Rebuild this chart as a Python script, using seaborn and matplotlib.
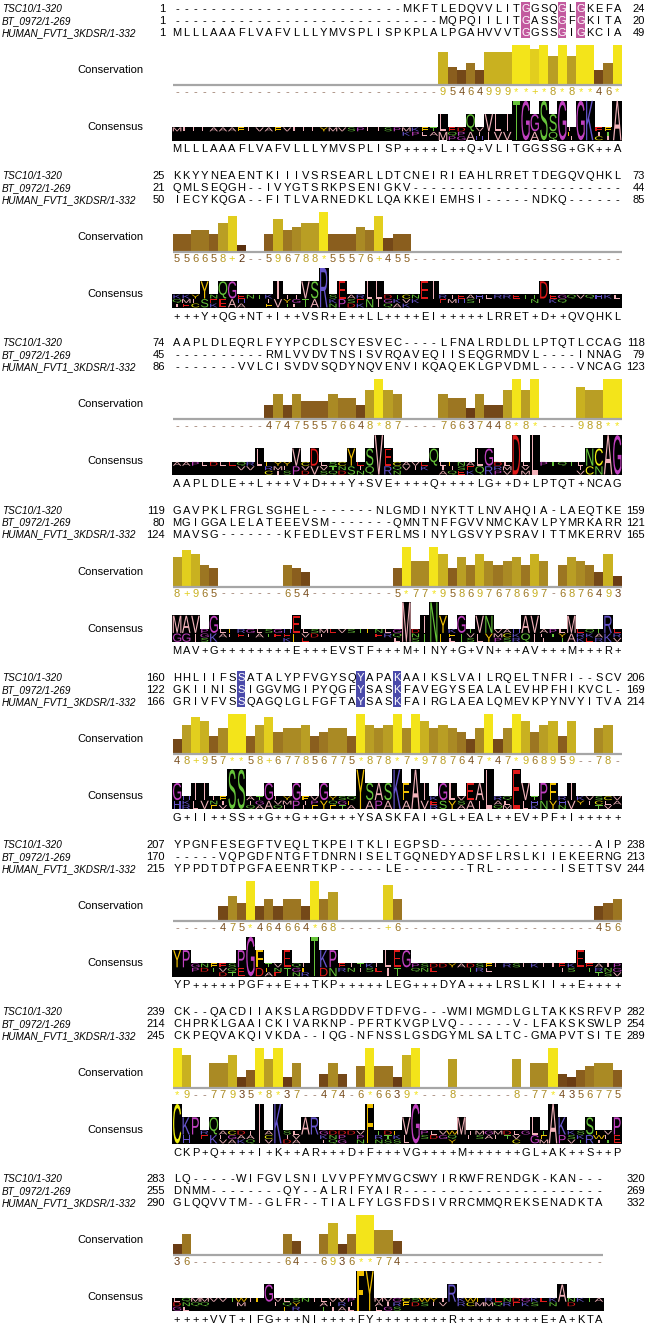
import collections
import numpy as np
import pandas as pd
import seaborn as sns
import matplotlib
matplotlib.use("Agg")
import matplotlib.pyplot as plt
from matplotlib.textpath import TextPath
from matplotlib.patches import PathPatch, Rectangle
from matplotlib.font_manager import FontProperties
from matplotlib.transforms import Affine2D

# ---------------- data ----------------
names = ["TSC10/1-320", "BT_0972/1-269", "HUMAN_FVT1_3KDSR/1-332"]

tsc10_blocks = [
    "-" * 25 + "MKFTLEDQVVLITGGSQGLGKEFA",
    "KKYYNEAENTKIIIVSRSEARLLDTCNEIRIEAHLRRETTDEGQVQHKL",
    "AAPLDLEQRLFYYPCDLSCYESVEC" + "----" + "LFNALRDLDLLPTQTLCCAG",
    "GAVPKLFRGLSGHEL" + "-" * 7 + "NLGMDINYKTTLNVAHQIA" + "-" + "LAEQTKE",
    "HHLIIFSSATALYPFVGYSQYAPAKAAIKSLVAILRQELTNFRI" + "--" + "SCV",
    "YPGNFESEGFTVEQLTKPEITKLIEGPSD" + "-" * 17 + "AIP",
    "CK" + "--" + "QACDIIAKSLARGDDDVFTDFVG" + "---" + "WMIMGMDLGLTAKKSRFVP",
    "LQ" + "-" * 5 + "WIFGVLSNILVVPFYMVGCSWYIRKWFRENDGK" + "-" + "KAN" + "---",
]
bt_blocks = [
    "-" * 29 + "MQPQIILITGASSGFGKITA",
    "QMLSEQGH" + "--" + "IVYGTSRKPSENIGKV" + "-" * 23,
    "-" * 10 + "RMLVVDVTNSISVRQAVEQIISEQGRMDVL" + "----" + "INNAG",
    "MGIGGALELATEEEVSM" + "-" * 7 + "QMNTNFFGVVNMCKAVLPYMRKARR",
    "GKIINISSIGGVMGIPYQGFYSASKFAVEGYSEALALEVHPFHIKVCL" + "-",
    "-" * 5 + "VQPGDFNTGFTDNRNISELTGQNEDYADSFLRSLKIIEKEERNG",
    "CHPRKLGAAICKIVARKNP" + "-" + "PFRTKVGPLVQ" + "-" * 6 + "V" + "-" + "LFAKSKSWLP",
    "DNMM" + "-" * 8 + "QY" + "--" + "ALRIFYAIR" + "-" * 22,
]
human_blocks = [
    "MLLLAAAFLVAFVLLLYMVSPLISPKPLALPGAHVVVTGGSSGIGKCIA",
    "IECYKQGA" + "--" + "FITLVARNEDKLLQAKKEIEMHSI" + "-" * 5 + "NDKQ" + "-" * 6,
    "-" * 7 + "VVLCISVDVSQDYNQVENVIKQAQEKLGPVDML" + "----" + "VNCAG",
    "MAVSG" + "-" * 7 + "KFEDLEVSTFERLMSINYLGSVYPSRAVITTMKERRV",
    "GRIVFVSSQAGQLGLFGFTAYSASKFAIRGLAEALQMEVKPYNVYITVA",
    "YPPDTDTPGFAEENRTKP" + "-" * 5 + "LE" + "-" * 7 + "TRL" + "-" * 7 + "ISETTSV",
    "CKPEQVAKQIVKDA" + "--" + "IQG" + "-" + "NFNSSLGSDGYMLSALTC" + "-" + "GMAPVTSITE",
    "GLQQVVTM--GLFR--TIALFYLGSFDSIVRRCMMQREKSENADKTA",
]
conservation_blocks = [
    "-" * 29 + "95464999**+*8*8**46*",
    "556658+2--596788*55576+455" + "-" * 23,
    "-" * 10 + "474755576648*87" + "----" + "76637448*8*" + "----" + "988**",
    "8+965" + "-" * 7 + "654" + "-" * 9 + "5*77*958697678697" + "-" + "6876493",
    "48+957**58+677856775*878*7*9787647*47*968959--78-",
    "-----475*464664*68" + "-----" + "+6" + "-" * 21 + "456",
    "*9--77935*8*37--474-6*6639*---8------8-77*4356775",
    "36" + "-" * 10 + "64" + "--" + "6936**774" + "-" * 22,
]
consensus_blocks = [
    "MLLLAAAFLVAFVLLLYMVSPLISP++++L++Q+VLITGGSSG+GK++A",
    "+++Y+QG+NT+I++VSR+E++LL++++EI+++++LRRET+D++QVQHKL",
    "AAPLDLE++L+++V+D+++Y+SVE++++Q++++LG++D+LPTQT+NCAG",
    "MAV+G++++++++E+++EVSTF+++M+INY+G+VN+++AV+++M+++R+",
    "G+II++SS++G++G++G+++YSASKFAI+GL+EAL++EV+PF+I+++++",
    "YP+++++PGF++E++TKP+++++LEG+++DYA+++LRSLKII++E++++",
    "CKP+Q++++I+K++AR+++D+F+++VG++++M++++++GL+AK++S++P",
    "++++VVT+IFG+++NI++++FY++++++++R+++++++++E+A+KTA",
]
# highlighted (fully conserved, coloured) columns: block index -> columns (1-based)
highlight_cols = {0: [39, 43, 45], 4: [8, 21, 25]}

seqs = [tsc10_blocks, bt_blocks, human_blocks]
for b in range(8):
    n = len(conservation_blocks[b])
    for s in seqs:
        assert len(s[b]) == n, (b, len(s[b]), n)
    assert len(consensus_blocks[b]) == n, (b, "cons")

# ---------------- style ----------------
sns.set_theme(style="white")
plt.rcParams["font.family"] = ["Liberation Sans", "DejaVu Sans"]

W, H = 647, 1325
X0, CW = 172.5, 9.17          # column grid (px)
B0, PERIOD = 85.0, 167.2      # conservation baseline of first block, block period
UNIT = 3.64                   # px per conservation unit
LOGO_H, LOGO_BOT = 40.0, 55.5
FS = 8.0
FS_NAME = 7.2
HALF_CAP = 4.0

cons_colors = {0: "#4a2608", 1: "#52290b", 2: "#5a300f", 3: "#6a3c14", 4: "#744818",
               5: "#8a5e1e", 6: "#9c7622", 7: "#aa8a24", 8: "#b99e24", 9: "#c9b120",
               10: "#e2ce1e", 11: "#f3e41a"}
dash_color = "#9a7a6a"
hl_colors = {0: "#c25a9e", 4: "#4a4aaa"}

zappo = {}
for ch in "ILVAM":
    zappo[ch] = "#f2b2ba"
for ch in "FWY":
    zappo[ch] = "#f0c000"
for ch in "KRH":
    zappo[ch] = "#6655cc"
for ch in "DE":
    zappo[ch] = "#e01a1a"
for ch in "STNQ":
    zappo[ch] = "#66c43a"
for ch in "PG":
    zappo[ch] = "#c040c0"
zappo["C"] = "#eeee10"


def score(ch):
    if ch == "*":
        return 11
    if ch == "+":
        return 10
    if ch.isdigit():
        return int(ch)
    return None


fig = plt.figure(figsize=(W / 100, H / 100), dpi=100)
fig.patch.set_facecolor("white")
ax = fig.add_axes([0, 0, 1, 1])
ax.set_xlim(0, W)
ax.set_ylim(H, 0)
ax.axis("off")

logo_fp = FontProperties(family="Liberation Sans")
_glyph_cache = {}
_ref_w = TextPath((0, 0), "M", size=10, prop=logo_fp).get_extents().width


def glyph(ch, xl, ytop, w, h, color):
    if h <= 0.2:
        return
    if ch not in _glyph_cache:
        _glyph_cache[ch] = TextPath((0, 0), ch, size=10, prop=logo_fp)
    tp = _glyph_cache[ch]
    ext = tp.get_extents()
    sx = w / _ref_w
    gw = ext.width * sx
    tr = (Affine2D().translate(-ext.x0, -ext.y0)
          .scale(sx, -h / ext.height)
          .translate(xl + (w - gw) / 2.0, ytop + h))
    ax.add_patch(PathPatch(tr.transform_path(tp), facecolor=color,
                           edgecolor="none", lw=0, zorder=3))


counts = [0, 0, 0]
for b in range(8):
    B = B0 + b * PERIOD
    n = len(conservation_blocks[b])

    # ---- sequence rows ----
    for r in range(3):
        seg = seqs[r][b]
        y = B - 77 + 12 * r
        nres = sum(ch != "-" for ch in seg)
        start = counts[r] + 1
        counts[r] += nres
        end = counts[r]
        ax.text(2, y + HALF_CAP, names[r], style="italic", fontsize=FS_NAME,
                ha="left", va="baseline", color="black")
        ax.text(165, y + HALF_CAP, str(start), fontsize=FS, ha="right",
                va="baseline", color="black")
        ax.text(645, y + HALF_CAP, str(end), fontsize=FS, ha="right",
                va="baseline", color="black")
        for c, ch in enumerate(seg):
            xc = X0 + (c + 0.5) * CW
            color = "black"
            if b in highlight_cols and (c + 1) in highlight_cols[b]:
                ax.add_patch(Rectangle((X0 + c * CW + 0.4, y - 5.9), CW - 0.8, 11.8,
                                       facecolor=hl_colors[b], edgecolor="none", zorder=1))
                color = "white"
            ax.text(xc, y + HALF_CAP, ch, fontsize=FS, ha="center", va="baseline",
                    color=color, zorder=2)

    # ---- labels ----
    ax.text(143, B - 16 + HALF_CAP, "Conservation", fontsize=FS, ha="right",
            va="baseline", color="black")
    ax.text(143, B + 41 + HALF_CAP, "Consensus", fontsize=FS, ha="right",
            va="baseline", color="black")

    # ---- conservation bars (seaborn) ----
    cons = conservation_blocks[b]
    keys = [f"c{i:02d}" for i in range(n)]
    vals = [score(ch) for ch in cons]
    df = pd.DataFrame({"col": keys, "score": [v if v is not None else 0 for v in vals]})
    pal = {k: cons_colors[v if v is not None else 0] for k, v in zip(keys, vals)}
    bax_h = 42.0
    bax = fig.add_axes([X0 / W, (H - B) / H, 49 * CW / W, bax_h / H])
    sns.barplot(data=df, x="col", y="score", hue="col", palette=pal, order=keys,
                hue_order=keys, width=1.0, legend=False, saturation=1,
                linewidth=0, errorbar=None, ax=bax)
    bax.set_xlim(-0.5, 48.5)
    bax.set_ylim(0, bax_h / UNIT)
    bax.axis("off")
    bax.plot([-0.5, n - 0.5], [0, 0], color="#a6a6a6", lw=1.6, clip_on=False,
             solid_capstyle="butt", zorder=5)

    # ---- conservation digits ----
    for c, ch in enumerate(cons):
        v = score(ch)
        color = cons_colors[v] if v is not None else dash_color
        ax.text(X0 + (c + 0.5) * CW, B + 6 + HALF_CAP, ch, fontsize=FS,
                ha="center", va="baseline", color=color)

    # ---- consensus logo ----
    bottom = B + LOGO_BOT
    for c in range(n):
        col = [s[b][c] for s in seqs]
        cnt = collections.Counter(ch for ch in col if ch != "-")
        if not cnt:
            continue
        maxc = max(cnt.values())
        colh = maxc / 3.0 * LOGO_H
        top = bottom - colh
        xl = X0 + c * CW
        ax.add_patch(Rectangle((xl - 0.2, top), CW + 0.4, colh, facecolor="black",
                               edgecolor="none", zorder=2))
        order = sorted(cnt.items(), key=lambda kv: (-kv[1], col.index(kv[0])))
        yy = top
        for ch, k in order:
            h = k / 3.0 * colh
            glyph(ch, xl + 0.3, yy + 0.3, CW - 0.6, h - 0.6, zappo.get(ch, "#cccccc"))
            yy += h

    # ---- consensus text ----
    for c, ch in enumerate(consensus_blocks[b]):
        ax.text(X0 + (c + 0.5) * CW, B + 63.5 + HALF_CAP, ch, fontsize=FS,
                ha="center", va="baseline", color="black")

fig.savefig("out.png", dpi=100, facecolor="white")
